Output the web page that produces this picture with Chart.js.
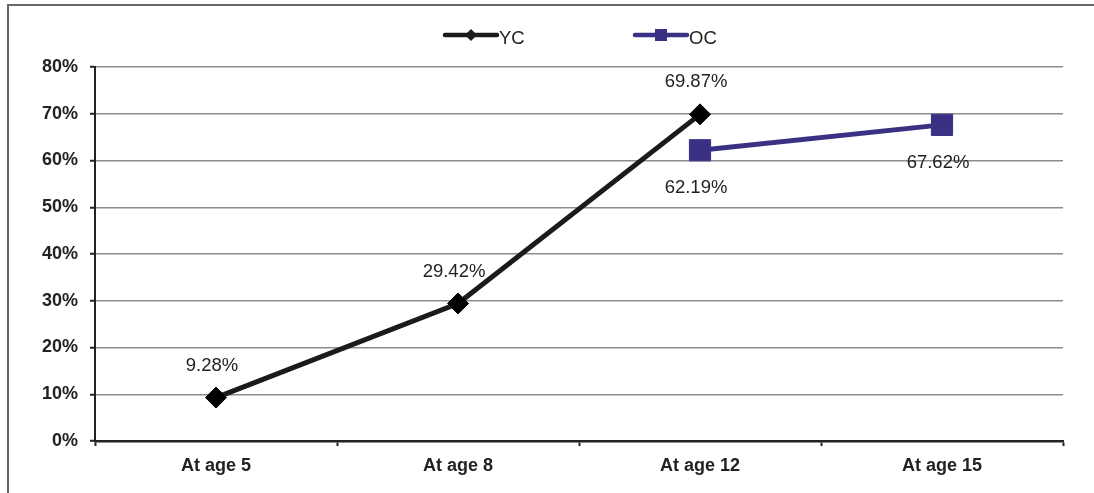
<!DOCTYPE html>
<html>
<head>
<meta charset="utf-8">
<script src="https://cdn.jsdelivr.net/npm/chart.js@4.4.0/dist/chart.umd.min.js"></script>
<style>
  html, body { margin: 0; padding: 0; background: #fff; }
  #wrap { position: relative; width: 1094px; height: 493px; }
  #frame { position: absolute; left: 7px; top: 4px; right: 0; bottom: 0;
           border-top: 2px solid #666; border-left: 2px solid #666; }
  canvas { position: absolute; left: 0; top: 0; }
</style>
</head>
<body>
<div id="wrap">
  <div id="frame"></div>
  <canvas id="chart" width="1094" height="493"></canvas>
</div>
<script>
// data
const categories = ['At age 5', 'At age 8', 'At age 12', 'At age 15'];
const ycValues = [9.28, 29.42, 69.87, null];
const ocValues = [null, null, 62.19, 67.62];
const yTicks = [0, 10, 20, 30, 40, 50, 60, 70, 80];

const YC_COLOR = '#1c1a1a';
const OC_COLOR = '#3b3184';
const FONT_FAMILY = '"Liberation Sans Narrow", "Arial Narrow", "Liberation Sans", Arial, sans-serif';

// value labels: YC above its points, OC below
const valueLabels = {
    id: 'valueLabels',
    afterDatasetsDraw(chart) {
        const ctx = chart.ctx;
        ctx.save();
        ctx.font = '18.5px ' + FONT_FAMILY;
        ctx.fillStyle = '#222';
        ctx.textAlign = 'center';
        ctx.textBaseline = 'middle';
        chart.data.datasets.forEach((ds, i) => {
            const meta = chart.getDatasetMeta(i);
            meta.data.forEach((pt, j) => {
                const v = ds.data[j];
                if (v === null || v === undefined) return;
                const dy = i === 0 ? -32 : 38;
                ctx.fillText(v.toFixed(2) + '%', pt.x - 4, pt.y + dy);
            });
        });
        ctx.restore();
    }
};

// legend drawn like the original: short line with a marker in the middle
const lineLegend = {
    id: 'lineLegend',
    afterDraw(chart) {
        const ctx = chart.ctx;
        const items = [
            { x: 443, ds: chart.data.datasets[0], shape: 'diamond' },
            { x: 633, ds: chart.data.datasets[1], shape: 'square' }
        ];
        const y = 35;
        ctx.save();
        items.forEach(item => {
            ctx.strokeStyle = item.ds.borderColor;
            ctx.fillStyle = item.ds.borderColor;
            ctx.lineWidth = 4.5;
            ctx.lineCap = 'round';
            ctx.beginPath();
            ctx.moveTo(item.x + 2, y);
            ctx.lineTo(item.x + 54, y);
            ctx.stroke();
            const cx = item.x + 28;
            ctx.beginPath();
            if (item.shape === 'diamond') {
                ctx.moveTo(cx, y - 6);
                ctx.lineTo(cx + 6, y);
                ctx.lineTo(cx, y + 6);
                ctx.lineTo(cx - 6, y);
                ctx.closePath();
            } else {
                ctx.rect(cx - 6, y - 6, 12, 12);
            }
            ctx.fill();
            ctx.fillStyle = '#222';
            ctx.font = '18.5px ' + FONT_FAMILY;
            ctx.textAlign = 'left';
            ctx.textBaseline = 'middle';
            ctx.fillText(item.ds.label, item.x + 56, y + 4);
        });
        ctx.restore();
    }
};

const tickFont = { family: FONT_FAMILY, size: 18, weight: 'bold' };

new Chart(document.getElementById('chart'), {
    type: 'line',
    data: {
        labels: categories,
        datasets: [{
            label: 'YC',
            data: ycValues,
            borderColor: YC_COLOR,
            backgroundColor: YC_COLOR,
            borderWidth: 5,
            pointStyle: 'rectRot',
            pointRadius: 10.5,
            pointBorderWidth: 1,
            pointBackgroundColor: '#000',
            pointBorderColor: '#000'
        }, {
            label: 'OC',
            data: ocValues,
            borderColor: OC_COLOR,
            backgroundColor: OC_COLOR,
            borderWidth: 5,
            pointStyle: 'rect',
            pointRadius: 15,
            pointBorderWidth: 1,
            pointBackgroundColor: OC_COLOR,
            pointBorderColor: OC_COLOR
        }]
    },
    options: {
        responsive: false,
        animation: false,
        layout: { padding: { top: 67, right: 31, left: 0, bottom: 0 } },
        plugins: {
            legend: { display: false },
            tooltip: { enabled: false }
        },
        scales: {
            x: {
                offset: true,
                afterFit: scale => { scale.height = 52; },
                grid: {
                    offset: true,
                    drawOnChartArea: false,
                    drawTicks: true,
                    tickLength: 5,
                    tickColor: '#222',
                    tickWidth: 2
                },
                border: { color: '#222', width: 2.5 },
                ticks: { font: tickFont, color: '#222', padding: 9 }
            },
            y: {
                min: 0,
                max: 80,
                afterFit: scale => { scale.width = 95; },
                afterBuildTicks: scale => { scale.ticks = yTicks.map(v => ({ value: v })); },
                grid: {
                    color: '#8c8c8c',
                    lineWidth: 1.5,
                    tickLength: 5,
                    tickColor: '#222',
                    tickWidth: 2
                },
                border: { color: '#222', width: 2 },
                ticks: {
                    font: tickFont,
                    color: '#222',
                    padding: 12,
                    callback: v => v + '%'
                }
            }
        }
    },
    plugins: [valueLabels, lineLegend]
});
</script>
</body>
</html>
